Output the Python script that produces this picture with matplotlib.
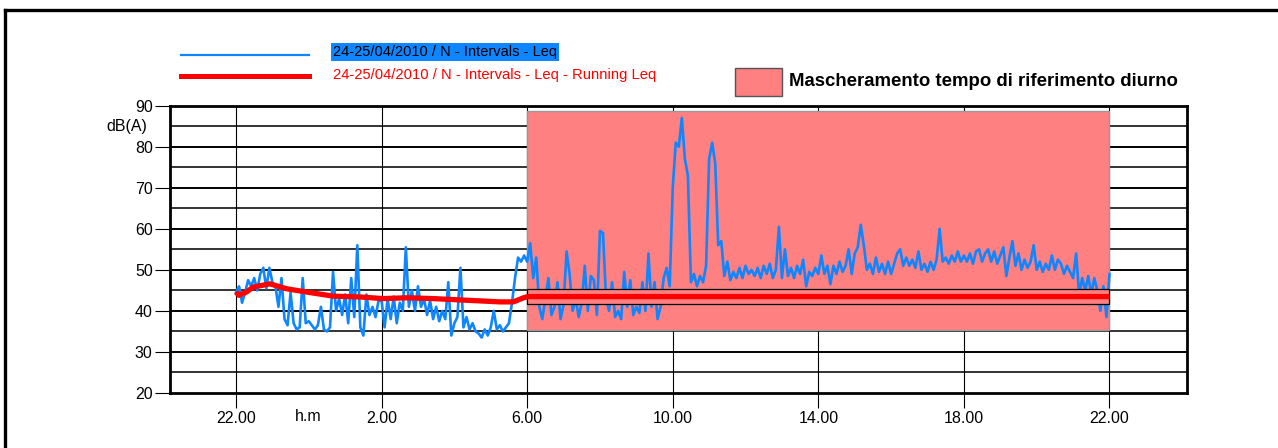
import numpy as np
import matplotlib
matplotlib.use('Agg')
import matplotlib.pyplot as plt
from matplotlib.patches import Rectangle
from matplotlib.lines import Line2D

# ---------------- data ----------------
# Leq, 5-minute intervals, hours counted from 22:00 (24/04) to 22:00 (25/04)
leq_22_02 = [44.5, 46, 42, 44.5, 47.5, 46, 48, 45, 49, 50.5, 45.5, 50.5, 47, 46, 41, 48,
             38, 36.5, 44.5, 37, 35.5, 36, 48, 37, 37.5, 36.5, 35.5, 36.5, 41, 35.5, 35, 36,
             49.5, 40, 43, 39, 44, 37, 48, 38.5, 56, 36, 34, 44, 39, 41, 38.5, 42.5]
leq_02_06 = [42.5, 36, 43, 38, 43.5, 37, 42, 40, 55.5, 41, 45, 40, 46, 41, 43, 39, 42.5,
             38, 41, 37.5, 40, 38, 47, 34, 37, 38.5, 50.5, 36, 38.5, 35.5, 37, 35, 34.5,
             33.5, 35.5, 34, 36, 40, 35.5, 36.5, 35, 36, 37, 42, 48, 53, 52, 53.5]
leq_06_10 = [52, 56.5, 48, 53, 41, 38, 43, 48, 39, 41, 47, 38, 41.5, 54.5, 49, 40, 43,
             38.5, 42, 51, 40, 48.5, 47.5, 39, 59.5, 59, 43, 40, 47, 38.5, 40, 38, 49.5,
             41, 47.5, 39, 41, 39.5, 47, 40, 54, 41, 47, 38, 41, 48, 50.5, 46]
leq_10_14 = [70, 81, 80, 87, 77, 73, 47, 49, 46, 48.5, 47, 51, 77, 81, 76, 56, 57, 48.5,
             52, 47.5, 49.5, 48, 50.5, 48, 51, 49, 50, 48.5, 50.5, 48, 51, 49, 51.5, 48,
             50, 60.5, 48, 55, 48.5, 50.5, 48, 51, 49, 52.5, 46, 49.5, 48.5, 50.5]
leq_14_22 = [49, 53.5, 49, 51, 46.5, 51, 49, 52, 49.5, 51, 55, 49, 54, 55.5, 61, 56, 50,
             51.5, 49, 53, 49.5, 51.5, 49, 52, 49, 51.5, 54, 55, 51, 53, 51, 52.5, 50.5,
             54.5, 50, 51.5, 49.5, 52, 50, 52.5, 60, 52, 53, 51.5, 53.5, 52, 54.5, 52,
             53.5, 52, 54, 51.5, 54.5, 55, 52, 54, 55, 52, 54.5, 51.5, 53.5, 55.5, 48.5,
             53, 57, 51, 54, 50, 52.5, 50.5, 52, 56, 50, 52, 49.5, 51.5, 50, 53.5, 50,
             52.5, 51.5, 49, 51, 49.5, 48, 54, 44, 48, 45, 48.5, 44, 48, 45, 40, 46, 38.5, 49]
interval_minutes = 5

# running Leq (hours from 22:00, dB)
running_hours = [0, 0.08, 0.29, 0.47, 0.93, 1.39, 1.94, 2.67, 3.41, 4.04, 4.69, 5.42,
                 6.34, 7.25, 7.62, 7.9, 8.02, 24]
running_leq = [44.6, 43.8, 44.6, 45.8, 46.6, 45.4, 44.6, 43.6, 43.4, 43.0, 43.2, 43.0,
               42.6, 42.2, 42.2, 43.2, 43.5, 43.5]

# masking of the daytime reference period (hours from 22:00)
mask_start, mask_end = 8, 24
mask_low, mask_high = 35.4, 88.7
band_low, band_high = 41.8, 45.4

xtick_hours = [0, 4, 8, 12, 16, 20, 24]
xtick_labels = ['22.00', '2.00', '6.00', '10.00', '14.00', '18.00', '22.00']
ytick_vals = [20, 30, 40, 50, 60, 70, 80, 90]

label_leq = '24-25/04/2010 / N - Intervals - Leq'
label_run = '24-25/04/2010 / N - Intervals - Leq - Running Leq'
label_mask = 'Mascheramento tempo di riferimento diurno'

# ---------------- drawing ----------------
plt.rcParams['font.family'] = ['Liberation Sans', 'DejaVu Sans']
BLUE = '#0F86FF'
RED = '#FF0000'
PINK = '#FF8080'

W, H = 1278, 448
fig = plt.figure(figsize=(W / 100, H / 100), dpi=100)


def fx(px):
    return px / W


def fy(py):
    return 1 - py / H


ax = fig.add_axes([fx(170), fy(393), (1187 - 170) / W, (393 - 105.7) / H])
ax.set_xlim(-1.813, 26.13)
ax.set_ylim(20, 90)

leq = np.array(leq_22_02 + leq_02_06 + leq_06_10 + leq_10_14 + leq_14_22)
t = np.arange(len(leq)) * interval_minutes / 60.0

for y in np.arange(25, 90, 5):
    ax.axhline(y, color='black' if y % 10 == 0 else '#333333', lw=1.4, zorder=1)
for x in xtick_hours:
    ax.axvline(x, color='black', lw=0.8, zorder=1)

ax.add_patch(Rectangle((mask_start, mask_low), mask_end - mask_start, mask_high - mask_low,
                       facecolor=PINK, edgecolor='#999999', lw=1.0, zorder=2))
ax.plot(t, leq, color=BLUE, lw=1.9, zorder=3)
ax.add_patch(Rectangle((mask_start, band_low), mask_end - mask_start, band_high - band_low,
                       facecolor=PINK, edgecolor='black', lw=0.9, zorder=4))
ax.plot(running_hours, running_leq, color=RED, lw=3.8, zorder=5, solid_capstyle='butt')

for s in ax.spines.values():
    s.set_linewidth(2.0)
    s.set_color('black')
    s.set_zorder(6)

ax.set_xticks(xtick_hours)
ax.set_xticklabels(xtick_labels)
ax.set_yticks(ytick_vals)
ax.tick_params(axis='x', direction='out', length=11, width=0.8, pad=2, labelsize=11.5)
ax.tick_params(axis='y', direction='out', length=11, width=0.8, pad=1.5, labelsize=11.5)

fig.text(fx(308), fy(416), 'h.m', ha='center', va='center', fontsize=11.5)
fig.text(fx(127), fy(127), 'dB(A)', ha='center', va='center', fontsize=11.5)

# legend
fig.add_artist(Line2D([fx(181), fx(309)], [fy(55), fy(55)], color=BLUE, lw=1.6))
fig.text(fx(333), fy(52), label_leq, ha='left', va='center', fontsize=10.5, color='black',
         bbox=dict(facecolor=BLUE, edgecolor='none', pad=1.5))
fig.add_artist(Line2D([fx(181), fx(309)], [fy(76), fy(76)], color=RED, lw=3.6))
fig.text(fx(333), fy(75), label_run, ha='left', va='center', fontsize=10.6, color=RED)
fig.add_artist(Rectangle((fx(735), fy(96)), (782 - 735) / W, (96 - 68) / H,
                         transform=fig.transFigure, facecolor=PINK, edgecolor='#555555', lw=1.0))
fig.text(fx(789), fy(82), label_mask, ha='left', va='center', fontsize=13.4, fontweight='bold')

# outer frame
fig.add_artist(Line2D([fx(4.7), fx(4.7)], [fy(9.7), -0.1], color='black', lw=2.4))
fig.add_artist(Line2D([fx(4.7), 1.1], [fy(9.7), fy(9.7)], color='black', lw=2.4))

fig.savefig('out.png', dpi=100)
